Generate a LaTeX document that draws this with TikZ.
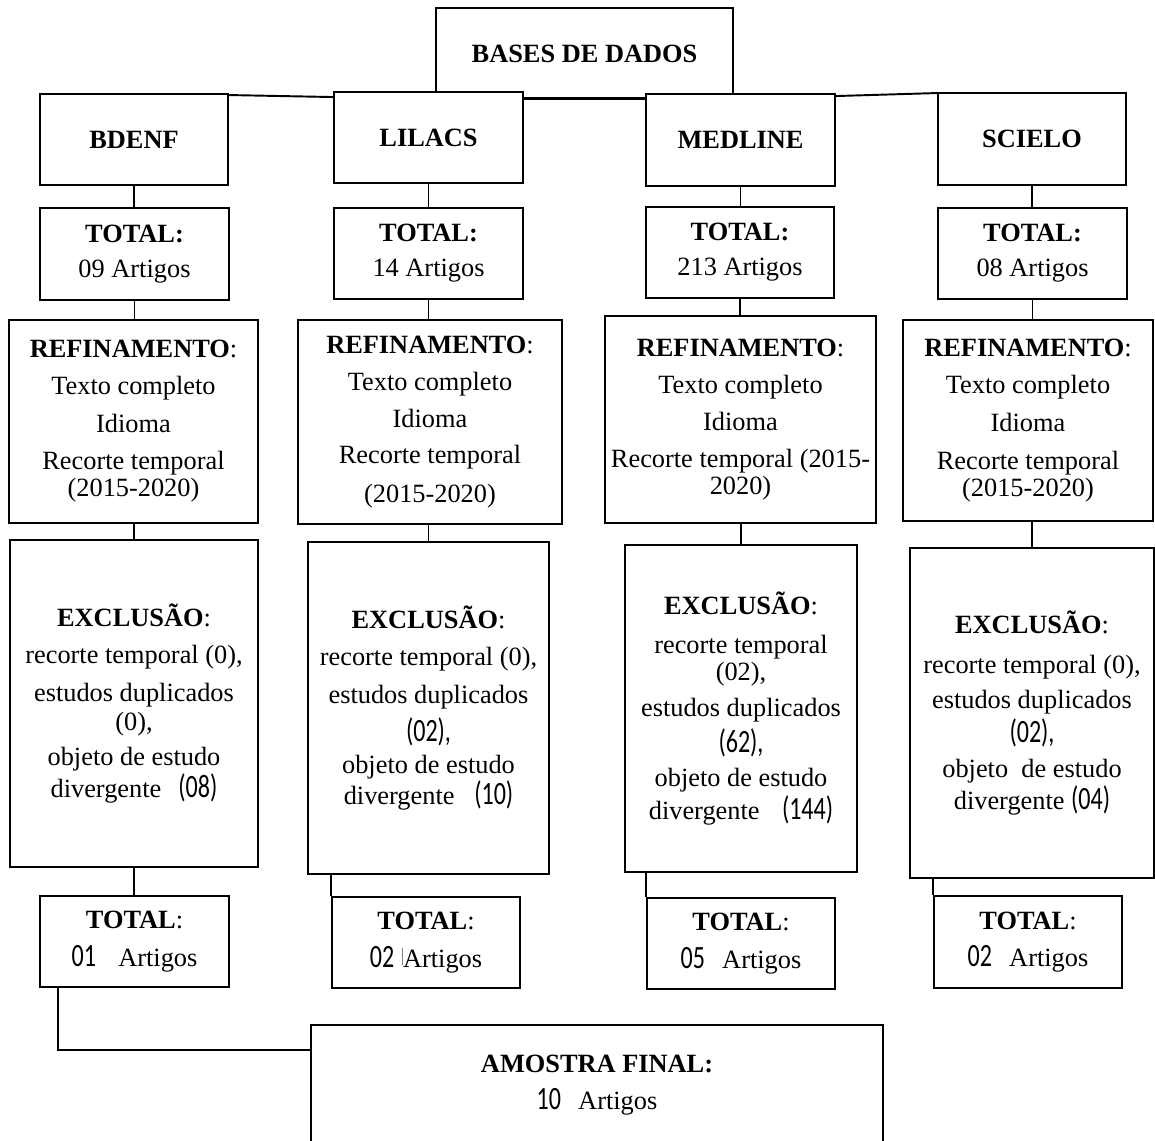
\documentclass[tikz,border=0pt]{standalone}
\usepackage{fontspec}
\setmainfont{Liberation Serif}
\newfontfamily\numfont[FakeStretch=0.74]{Carlito}
\newcommand\num[1]{{\numfont\fontsize{18.5}{15}\selectfont #1}}
\tikzset{
  caixa/.style={draw,line width=1.1pt,fill=white,align=center,inner sep=0pt,
    font=\fontsize{15}{15}\selectfont},
  liga/.style={line width=1.1pt}
}
\begin{document}
\begin{tikzpicture}[x=0.02cm,y=-0.02cm]
  \useasboundingbox (0,0) rectangle (1155,1140);
  % bases
  \node[caixa,minimum width=5.94cm,minimum height=1.82cm] (bases) at (584.5,53.5)
    {\textbf{BASES DE DADOS}};
  \node[caixa,minimum width=3.76cm,minimum height=1.82cm] (bdenf) at (134,139.5)
    {\textbf{BDENF}};
  \node[caixa,minimum width=3.78cm,minimum height=1.82cm] (lilacs) at (428.5,137.5)
    {\textbf{LILACS}};
  \node[caixa,minimum width=3.78cm,minimum height=1.84cm] (medline) at (740.5,140)
    {\textbf{MEDLINE}};
  \node[caixa,minimum width=3.76cm,minimum height=1.84cm] (scielo) at (1032,139)
    {\textbf{SCIELO}};
  \draw[liga] ([yshift=-0.04cm]bdenf.north east) -- ([yshift=-0.12cm]lilacs.north west);
  \draw[liga] ([yshift=-0.14cm]lilacs.north east) -- ([yshift=-0.10cm]medline.north west);
  \draw[liga] ([yshift=-0.06cm]medline.north east) -- ([yshift=-0.02cm]scielo.north west);
  % totais
  \node[caixa,minimum width=3.78cm,minimum height=1.84cm] (tot1) at (134.5,254)
    {\textbf{TOTAL:}\\[4.8pt]09 Artigos};
  \node[caixa,minimum width=3.78cm,minimum height=1.82cm] (tot2) at (428.5,253.5)
    {\textbf{TOTAL:}\\[4.8pt]14 Artigos};
  \node[caixa,minimum width=3.76cm,minimum height=1.82cm] (tot3) at (740,252.5)
    {\textbf{TOTAL:}\\[4.8pt]213 Artigos};
  \node[caixa,minimum width=3.78cm,minimum height=1.82cm] (tot4) at (1032.5,253.5)
    {\textbf{TOTAL:}\\[4.8pt]08 Artigos};
  % refinamento
  \node[caixa,minimum width=4.98cm,minimum height=4.06cm] (ref1) at (133.5,421.5)
    {\textbf{REFINAMENTO}:\\[6pt]Texto completo\\[6.3pt]Idioma\\[6pt]Recorte temporal\\[0.8pt](2015-2020)};
  \node[caixa,minimum width=5.28cm,minimum height=4.08cm] (ref2) at (430,422)
    {\textbf{REFINAMENTO}:\\[6pt]Texto completo\\[6pt]Idioma\\[6pt]Recorte temporal\\[7pt](2015-2020)};
  \node[caixa,minimum width=5.42cm,minimum height=4.14cm] (ref3) at (740.5,419.5)
    {\textbf{REFINAMENTO}:\\[6pt]Texto completo\\[6.5pt]Idioma\\[6pt]Recorte temporal (2015-\\[0.3pt]2020)};
  \node[caixa,minimum width=5.00cm,minimum height=4.02cm] (ref4) at (1028,420.5)
    {\textbf{REFINAMENTO}:\\[6pt]Texto completo\\[6.5pt]Idioma\\[6.5pt]Recorte temporal\\[0.3pt](2015-2020)};
  % exclusao
  \node[caixa,minimum width=4.96cm,minimum height=6.54cm] (excl1) at (134,703.5)
    {\textbf{EXCLUSÃO}:\\[6.5pt]recorte temporal (0),\\[6.5pt]estudos duplicados\\[1.4pt](0),\\[4.8pt]objeto de estudo\\[0.8pt]divergente\hspace{0.4em} \num{(08)}};
  \node[caixa,minimum width=4.82cm,minimum height=6.64cm] (excl2) at (428.5,708)
    {\textbf{EXCLUSÃO}:\\[6.5pt]recorte temporal (0),\\[6.5pt]estudos duplicados\\[3.7pt]\num{(02),}\\[3.1pt]objeto de estudo\\[0.3pt]divergente\hspace{0.5em} \num{(10)}};
  \node[caixa,minimum width=4.64cm,minimum height=6.54cm] (excl3) at (741,708.5)
    {\textbf{EXCLUSÃO}:\\[7.7pt]recorte temporal\\[0.3pt](02),\\[5.4pt]estudos duplicados\\[2.6pt]\num{(62),}\\[4.3pt]objeto de estudo\\[1.4pt]divergente\hspace{0.6em} \num{(144)}};
  \node[caixa,minimum width=4.88cm,minimum height=6.60cm] (excl4) at (1032,713)
    {\textbf{EXCLUSÃO}:\\[7.7pt]recorte temporal (0),\\[4.8pt]estudos duplicados\\[2pt]\num{(02),}\\[4.8pt]objeto\ \ de estudo\\[0.3pt]divergente \num{(04)}};
  % totais finais
  \node[caixa,minimum width=3.78cm,minimum height=1.82cm] (fin1) at (134.5,941.5)
    {\textbf{TOTAL}:\\[6.5pt]\num{01}\hspace{0.6em} Artigos};
  \node[caixa,minimum width=3.76cm,minimum height=1.82cm] (fin2) at (426,942.5)
    {\textbf{TOTAL}:\\[6.5pt]\num{02}\hspace{0.3em}{\color{gray}\rule[0.2ex]{0.5pt}{1.4ex}}Artigos};
  \node[caixa,minimum width=3.76cm,minimum height=1.82cm] (fin3) at (741,943.5)
    {\textbf{TOTAL}:\\[6.5pt]\num{05}\hspace{0.4em} Artigos};
  \node[caixa,minimum width=3.76cm,minimum height=1.84cm] (fin4) at (1028,942)
    {\textbf{TOTAL}:\\[6.5pt]\num{02}\hspace{0.4em} Artigos};
  \node[caixa,minimum width=11.44cm,minimum height=2.40cm] (amostra) at (597,1085)
    {\textbf{AMOSTRA FINAL:}\\[6.5pt]\num{10}\hspace{0.4em} Artigos};
  % ligacoes verticais
  \draw[liga] (bdenf.south) -- (bdenf.south |- tot1.north);
  \draw[liga] (lilacs.south) -- (lilacs.south |- tot2.north);
  \draw[liga] (medline.south) -- (medline.south |- tot3.north);
  \draw[liga] (scielo.south) -- (scielo.south |- tot4.north);
  \draw[liga] (tot1.south) -- (tot1.south |- ref1.north);
  \draw[liga] (tot2.south) -- (tot2.south |- ref2.north);
  \draw[liga] (tot3.south) -- (tot3.south |- ref3.north);
  \draw[liga] (tot4.south) -- (tot4.south |- ref4.north);
  \draw[liga] (excl1.north |- ref1.south) -- (excl1.north);
  \draw[liga] (excl2.north |- ref2.south) -- (excl2.north);
  \draw[liga] (excl3.north |- ref3.south) -- (excl3.north);
  \draw[liga] (excl4.north |- ref4.south) -- (excl4.north);
  \draw[liga] (excl1.south) -- (excl1.south |- fin1.north);
  \draw[liga] (fin2.north west |- excl2.south) -- (fin2.north west);
  \draw[liga] (fin3.north west |- excl3.south) -- (fin3.north west);
  \draw[liga] (fin4.north west |- excl4.south) -- (fin4.north west);
  \draw[liga] ([xshift=0.38cm]fin1.south west) |- ([yshift=-0.52cm]amostra.north west);
\end{tikzpicture}
\end{document}
